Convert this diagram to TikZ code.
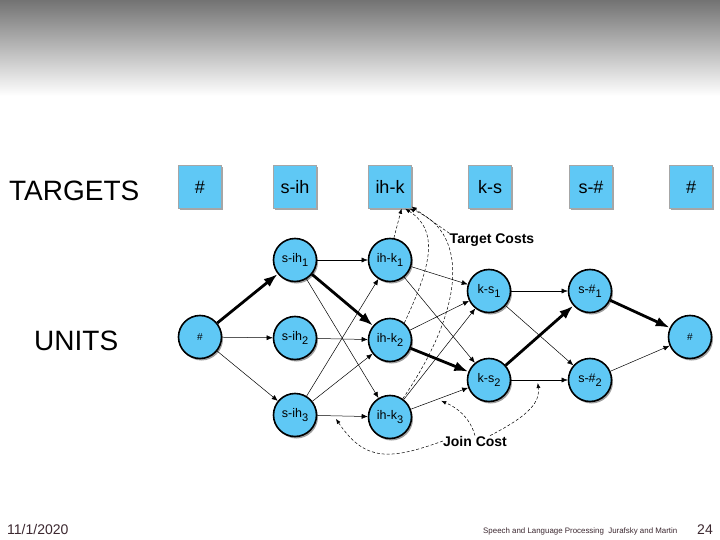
\documentclass[tikz,border=0pt]{standalone}
\usepackage{fontspec}
\setmainfont{Liberation Sans}
\usepackage{tikz}
\usetikzlibrary{arrows.meta,calc,shadows}

\definecolor{unitblue}{RGB}{95,200,245}
\definecolor{footcol}{RGB}{60,40,48}
\newcommand{\usub}[1]{\raisebox{-0.55ex}{\fontsize{11}{11}\selectfont #1}}

\begin{document}
\begin{tikzpicture}[x=1pt,y=-1pt,
  tbox/.style={draw=black!35,fill=unitblue,minimum width=43pt,minimum height=43pt,
  inner sep=0pt,font=\fontsize{18}{18}\selectfont,
  drop shadow={shadow xshift=1.5pt,shadow yshift=-2pt,opacity=0.7}},
  unit/.style={circle,draw,line width=1.6pt,fill=unitblue,minimum size=43pt,
  inner sep=0pt,font=\fontsize{12.5}{13}\selectfont,
  drop shadow={shadow xshift=1.5pt,shadow yshift=-2pt,opacity=0.75}},
  arr/.style={-{Latex[length=6pt,width=5pt]},line width=0.5pt},
  best/.style={-{Latex[length=14pt,width=10pt]},line width=2.8pt},
  cost/.style={-{Latex[length=5pt,width=4pt]},dash pattern=on 3pt off 2pt,line width=0.5pt},
  big/.style={inner sep=0pt,font=\fontsize{28}{28}\selectfont},
  costlbl/.style={inner sep=0pt,font=\bfseries\fontsize{14}{14}\selectfont},
  foot/.style={inner sep=0pt,text=footcol}
]
\fill[white] (0,0) rectangle (720,540);
\shade[top color=black!55,bottom color=white] (0,0) rectangle (720,96);
\useasboundingbox (0,0) rectangle (720,540);

\node[big,anchor=base west] (tlabel) at (9,201) {TARGETS};
\node[big,anchor=base west] (ulabel) at (34,350) {UNITS};

% target row
\node[tbox] (thash) at (200,187) {\#};
\node[tbox] (tsih) at (295,187) {s-ih};
\node[tbox] (tihk) at (390,187) {ih-k};
\node[tbox] (tks) at (490,187) {k-s};
\node[tbox] (tsend) at (591,187) {s-\#};
\node[tbox] (tend) at (691,187) {\#};

% unit lattice
\node[unit,font=\fontsize{10}{10}\selectfont] (ustart) at (200,337) {\#};
\node[unit] (sih1) at (295,260) {s-ih\usub{1}};
\node[unit] (sih2) at (295,338) {s-ih\usub{2}};
\node[unit] (sih3) at (295,415) {s-ih\usub{3}};
\node[unit] (ihk1) at (390,260) {ih-k\usub{1}};
\node[unit] (ihk2) at (390,340) {ih-k\usub{2}};
\node[unit] (ihk3) at (390,417) {ih-k\usub{3}};
\node[unit] (ks1) at (489,291) {k-s\usub{1}};
\node[unit] (ks2) at (489,380) {k-s\usub{2}};
\node[unit] (send1) at (590,291) {s-\#\usub{1}};
\node[unit] (send2) at (590,380) {s-\#\usub{2}};
\node[unit,font=\fontsize{10}{10}\selectfont] (uend) at (690,337) {\#};

\draw[best] (ustart) -- (sih1);
\draw[arr] (ustart) -- (sih2);
\draw[arr] (ustart) -- (sih3);
\draw[arr] (sih1) -- (ihk1);
\draw[best] (sih1) -- (ihk2);
\draw[arr] (sih1) -- (ihk3);
\draw[arr] (sih2) -- (ihk2);
\draw[arr] (sih3) -- (ihk1);
\draw[arr] (sih3) -- (ihk2);
\draw[arr] (sih3) -- (ihk3);
\draw[arr] (ihk1) -- (ks1);
\draw[arr] (ihk1) -- (ks2);
\draw[arr] (ihk2) -- (ks1);
\draw[best] (ihk2) -- (ks2);
\draw[arr] (ihk3) -- (ks1);
\draw[arr] (ihk3) -- (ks2);
\draw[arr] (ks1) -- (send1);
\draw[arr] (ks1) -- (send2);
\draw[best] (ks2) -- (send1);
\draw[arr] (ks2) -- (send2);
\draw[best] (send1) -- (uend);
\draw[arr] (send2) -- (uend);

% cost labels
\node[costlbl] (tcost) at (492,240) {Target Costs};
\node[costlbl] (jcost) at (475,441) {Join Cost};

% target costs
\draw[cost] (ihk1.80) -- (tihk.-62);
\draw[cost] (ihk2.50) .. controls (428,272) and (442,232) .. (tihk.-55);
\draw[cost] (ihk3.55) .. controls (470,300) and (465,230) .. (tihk.-48);
\draw[cost] (tcost.north west) -- (tihk.-42);

% join costs
\path (sih3) -- (ihk3) coordinate[pos=0.37,yshift=-3pt] (jsih);
\path (ihk3) -- (ks2) coordinate[pos=0.53,yshift=-3pt] (jihk);
\path (ks2) -- (send2) coordinate[pos=0.47,yshift=-3pt] (jks);
\draw[cost] (jcost.west) .. controls (390,460) and (365,462) .. (jsih);
\draw[cost] (jcost.north) .. controls (470,418) and (458,408) .. (jihk);
\draw[cost] ([xshift=15pt]jcost.north) .. controls (530,415) and (540,402) .. (jks);

% footer
\node[foot,anchor=base west,font=\fontsize{14}{14}\selectfont] (date) at (7,534) {11/1/2020};
\node[foot,anchor=base west,font=\fontsize{7.9}{8}\selectfont] (credit) at (483,533)
  {Speech and Language Processing\ \ Jurafsky and Martin};
\node[foot,anchor=base east,font=\fontsize{14}{14}\selectfont] (page) at (713,534) {24};
\end{tikzpicture}
\end{document}
